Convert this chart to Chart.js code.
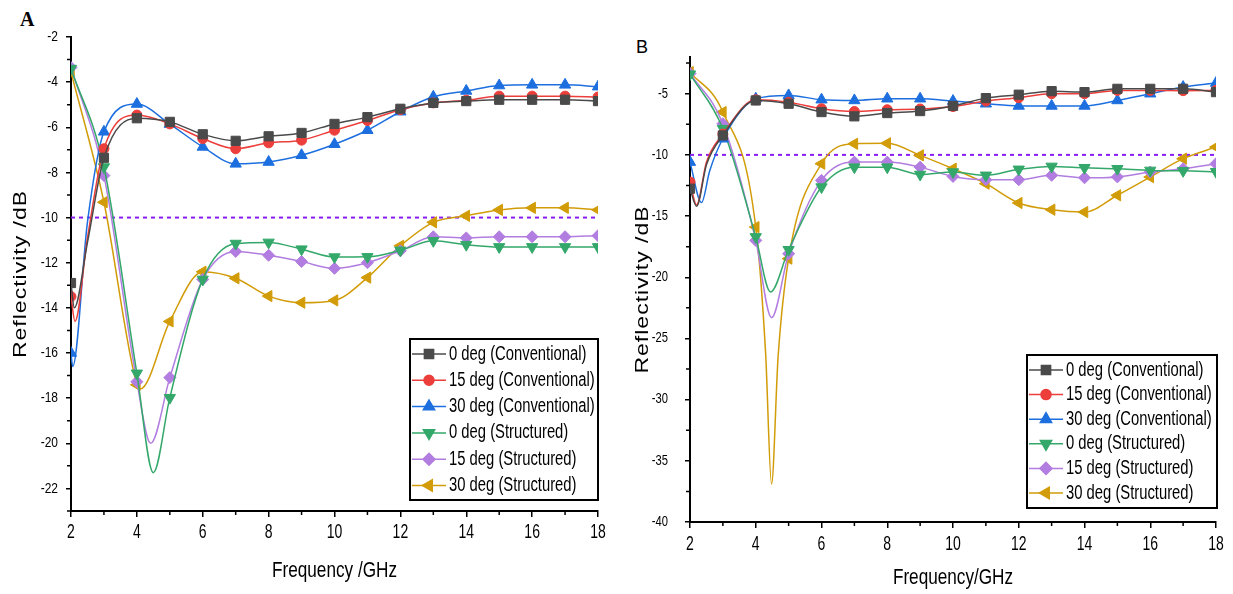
<!DOCTYPE html>
<html>
<head>
<meta charset="utf-8">
<script src="https://cdn.jsdelivr.net/npm/chart.js@4.4.1/dist/chart.umd.min.js"></script>
<style>
  body { margin: 0; background: #fff; width: 1233px; height: 594px; position: relative; overflow: hidden; }
  canvas { position: absolute; top: 0; }
  #chartA { left: 0; }
  #chartB { left: 620px; }
  .tag { position: absolute; color: #000; line-height: normal; }
  #tagA { left: 20px; top: 8px; font: bold 20px 'Liberation Serif', 'Times New Roman', serif; }
  #tagB { left: 636px; top: 37px; font: 18px 'Liberation Sans', Arial, sans-serif; }
</style>
</head>
<body>
<div id="tagA" class="tag">A</div>
<div id="tagB" class="tag">B</div>
<canvas id="chartA" width="620" height="594"></canvas>
<canvas id="chartB" width="613" height="594"></canvas>
<script>
const SANS = "'Liberation Sans', Arial, sans-serif";

// frequencies carrying a marker (GHz)
const freq = [2, 3, 4, 5, 6, 7, 8, 9, 10, 11, 12, 13, 14, 15, 16, 17, 18];
const xTicks = [2, 4, 6, 8, 10, 12, 14, 16, 18];
const xMinor = [3, 5, 7, 9, 11, 13, 15, 17];
const threshold = -10;

// ---- panel A ----
const yTicksA = [-22, -20, -18, -16, -14, -12, -10, -8, -6, -4, -2];
const yMinorA = [-23, -21, -19, -17, -15, -13, -11, -9, -7, -5, -3];

const a0Conv   = [-12.9, -7.35, -5.6, -5.76, -6.31, -6.6, -6.4, -6.25, -5.85, -5.55, -5.18, -4.92, -4.84, -4.78, -4.78, -4.78, -4.84];
const a15Conv  = [-13.5, -6.95, -5.46, -5.85, -6.5, -6.95, -6.69, -6.57, -6.13, -5.7, -5.22, -4.92, -4.8, -4.62, -4.62, -4.62, -4.66];
const a30Conv  = [-16.0, -6.2, -4.97, -5.86, -6.87, -7.62, -7.54, -7.24, -6.75, -6.13, -5.31, -4.65, -4.39, -4.15, -4.12, -4.12, -4.2];
const a0Struct = [-3.4, -7.76, -16.9, -17.98, -12.74, -11.15, -11.1, -11.4, -11.75, -11.74, -11.45, -11.03, -11.2, -11.3, -11.3, -11.3, -11.3];
const a15Struct = [-3.35, -8.14, -17.27, -17.09, -12.74, -11.5, -11.67, -11.95, -12.25, -12.0, -11.47, -10.85, -10.9, -10.85, -10.85, -10.85, -10.8];
const a30Struct = [-3.55, -9.32, -17.41, -14.6, -12.4, -12.69, -13.48, -13.77, -13.67, -12.66, -11.25, -10.21, -9.92, -9.66, -9.57, -9.57, -9.66];

// sampled points between markers (dips)
const a0ConvExtra   = [[2.1, -14.0], [2.5, -11.1]];
const a15ConvExtra  = [[2.12, -14.6], [2.5, -10.9]];
const a30ConvExtra  = [[2.05, -16.6], [2.5, -10.2]];
const a0StructExtra = [[4.5, -21.3]];
const a15StructExtra = [[4.42, -20.0]];
const a30StructExtra = [[4.1, -17.6]];

// ---- panel B ----
const yTicksB = [-40, -35, -30, -25, -20, -15, -10, -5];
const yMinorB = [-37.5, -32.5, -27.5, -22.5, -17.5, -12.5, -7.5, -2.5];

const b0Conv   = [-12.76, -8.41, -5.55, -5.82, -6.5, -6.85, -6.58, -6.42, -6.0, -5.36, -5.08, -4.79, -4.87, -4.6, -4.6, -4.6, -4.87];
const b15Conv  = [-12.22, -8.3, -5.5, -5.7, -6.23, -6.45, -6.31, -6.25, -6.05, -5.6, -5.33, -5.0, -5.0, -4.73, -4.73, -4.75, -4.73];
const b30Conv  = [-10.59, -8.68, -5.41, -5.14, -5.49, -5.55, -5.41, -5.41, -5.6, -5.82, -6.0, -6.0, -6.0, -5.55, -5.0, -4.46, -4.13];
const b0Struct = [-3.4, -7.86, -16.7, -17.75, -12.63, -11.0, -11.0, -11.6, -11.4, -11.67, -11.18, -10.94, -11.05, -11.13, -11.27, -11.3, -11.38];
const b15Struct = [-3.35, -7.45, -16.99, -18.08, -12.08, -10.59, -10.59, -11.0, -11.76, -12.03, -12.03, -11.67, -11.87, -11.8, -11.4, -11.13, -10.72];
const b30Struct = [-3.24, -6.5, -15.9, -18.48, -10.72, -9.09, -9.05, -10.04, -11.13, -12.35, -13.93, -14.48, -14.67, -13.3, -11.81, -10.31, -9.36];

const b0ConvExtra   = [[2.2, -14.2], [2.5, -10.8]];
const b15ConvExtra  = [[2.2, -14.1], [2.5, -10.6]];
const b30ConvExtra  = [[2.35, -13.9], [2.6, -11.3]];
const b0StructExtra = [[4.45, -21.2]];
const b15StructExtra = [[4.48, -23.3]];
const b30StructExtra = [[4.3, -26.2], [4.48, -36.9], [4.68, -26.5]];

const seriesStyles = [
  { label: '0 deg (Conventional)',  color: '#4a4a4a', shape: 'rect',     rotation: 0,   size: 6.5 },
  { label: '15 deg (Conventional)', color: '#ec3e3b', shape: 'circle',   rotation: 0,   size: 5 },
  { label: '30 deg (Conventional)', color: '#1d6fdf', shape: 'triangle', rotation: 0,   size: 6.5 },
  { label: '0 deg (Structured)',    color: '#33a86a', shape: 'triangle', rotation: 180, size: 6.5 },
  { label: '15 deg (Structured)',   color: '#b27de0', shape: 'rectRot',  rotation: 0,   size: 6 },
  { label: '30 deg (Structured)',   color: '#d29c08', shape: 'triangle', rotation: -90, size: 6.5 }
];

const toPoints = (vals, extra) => {
  const pts = freq.map((f, i) => ({ x: f, y: vals[i] }));
  extra.forEach(([x, y]) => pts.push({ x, y }));
  return pts.sort((a, b) => a.x - b.x);
};

// condensed text: the original labels are set in a narrow face
function squeeze(ctx, text, x, y, align, sx) {
  ctx.save();
  ctx.translate(x, y);
  ctx.scale(sx, 1);
  ctx.textAlign = align;
  ctx.fillText(text, 0, 0);
  ctx.restore();
}

// small outward ticks between the labelled ones
const minorTicks = {
  id: 'minorTicks',
  afterDraw(chart, args, opts) {
    const { ctx, chartArea, scales } = chart;
    ctx.save();
    ctx.strokeStyle = '#000';
    ctx.lineWidth = 1.5;
    ctx.beginPath();
    opts.x.forEach(v => {
      const px = scales.x.getPixelForValue(v);
      ctx.moveTo(px, chartArea.bottom);
      ctx.lineTo(px, chartArea.bottom + 4);
    });
    opts.y.forEach(v => {
      const py = scales.y.getPixelForValue(v);
      ctx.moveTo(chartArea.left, py);
      ctx.lineTo(chartArea.left - 4, py);
    });
    ctx.stroke();
    ctx.restore();
  }
};

// tick labels and axis titles
const axisText = {
  id: 'axisText',
  afterDraw(chart, args, o) {
    const { ctx, chartArea, scales } = chart;
    ctx.save();
    ctx.fillStyle = '#000';
    ctx.textBaseline = 'middle';
    ctx.font = `${o.xFont}px ${SANS}`;
    xTicks.forEach(v => squeeze(ctx, String(v), scales.x.getPixelForValue(v), chartArea.bottom + o.xGap, 'center', o.xSqueeze));
    ctx.font = `${o.yFont}px ${SANS}`;
    o.yTicks.forEach(v => squeeze(ctx, String(v), chartArea.left - o.yGap, scales.y.getPixelForValue(v), 'right', o.ySqueeze));
    ctx.font = `22px ${SANS}`;
    squeeze(ctx, o.xTitle, (chartArea.left + chartArea.right) / 2, o.xTitleY, 'center', 0.78);

    ctx.font = `23px ${SANS}`;
    ctx.letterSpacing = '1px';
    ctx.translate(o.yTitleX, (chartArea.top + chartArea.bottom) / 2);
    ctx.scale(0.8, 1);
    ctx.rotate(-Math.PI / 2);
    ctx.textAlign = 'center';
    ctx.fillText('Reflectivity /dB', 0, 0);
    ctx.restore();
  }
};

// framed legend sitting inside the plot
const boxLegend = {
  id: 'boxLegend',
  afterDraw(chart, args, opts) {
    const ctx = chart.ctx;
    ctx.save();
    ctx.fillStyle = '#fff';
    ctx.fillRect(opts.left, opts.top, opts.width, opts.height);
    ctx.lineWidth = 2;
    ctx.strokeStyle = '#000';
    ctx.strokeRect(opts.left, opts.top, opts.width, opts.height);
    ctx.font = `20px ${SANS}`;
    ctx.textBaseline = 'middle';
    chart.data.datasets.filter(ds => !ds.isThreshold).forEach((ds, i) => {
      const y = opts.top + opts.firstRow + i * opts.rowGap;
      ctx.strokeStyle = ds.borderColor;
      ctx.lineWidth = 1.5;
      ctx.beginPath();
      ctx.moveTo(opts.left + 2, y);
      ctx.lineTo(opts.left + 36, y);
      ctx.stroke();
      ctx.fillStyle = ds.borderColor;
      Chart.helpers.drawPoint(ctx, { pointStyle: ds.pointStyle, rotation: ds.pointRotation, radius: ds.markerSize, borderWidth: 1 }, opts.left + 19, y);
      ctx.fillStyle = '#000';
      squeeze(ctx, ds.label, opts.left + 39, y, 'left', 0.74);
    });
    ctx.restore();
  }
};

function makePanel(id, p) {
  const datasets = p.series.map((s, i) => {
    const st = seriesStyles[i];
    return {
      label: st.label,
      data: toPoints(s.vals, s.extra),
      borderColor: st.color,
      backgroundColor: st.color,
      borderWidth: 1.5,
      cubicInterpolationMode: 'monotone',
      pointStyle: st.shape,
      pointRotation: st.rotation,
      markerSize: st.size,
      pointRadius: ctx => Number.isInteger(ctx.raw.x) ? st.size : 0,
      pointBorderWidth: 1
    };
  });
  datasets.push({
    label: 'threshold',
    isThreshold: true,
    data: [{ x: 2, y: threshold }, { x: 18, y: threshold }],
    borderColor: '#8a1cf0',
    borderWidth: 2,
    borderDash: [4, 4],
    pointRadius: 0
  });

  new Chart(document.getElementById(id), {
    type: 'line',
    data: { datasets },
    plugins: [minorTicks, axisText, boxLegend],
    options: {
      responsive: false,
      animation: false,
      devicePixelRatio: 1,
      layout: { padding: p.padding },
      plugins: {
        legend: { display: false },
        tooltip: { enabled: false },
        minorTicks: { x: xMinor, y: p.yMinor },
        axisText: p.text,
        boxLegend: p.legend
      },
      scales: {
        x: {
          type: 'linear',
          min: 2,
          max: 18,
          afterBuildTicks: s => { s.ticks = xTicks.map(v => ({ value: v })); },
          afterFit: s => { s.height = p.xHeight; },
          border: { color: '#000', width: 2 },
          grid: { drawOnChartArea: false, color: '#000', tickLength: 6, lineWidth: 1.5 },
          ticks: { display: false }
        },
        y: {
          min: p.yMin,
          max: -2,
          afterBuildTicks: s => { s.ticks = p.yTicks.map(v => ({ value: v })); },
          afterFit: s => { s.width = p.yWidth; },
          border: { color: '#000', width: 2 },
          grid: { drawOnChartArea: false, color: '#000', tickLength: 5, lineWidth: 1.5 },
          ticks: { display: false }
        }
      }
    }
  });
}

makePanel('chartA', {
  series: [
    { vals: a0Conv, extra: a0ConvExtra },
    { vals: a15Conv, extra: a15ConvExtra },
    { vals: a30Conv, extra: a30ConvExtra },
    { vals: a0Struct, extra: a0StructExtra },
    { vals: a15Struct, extra: a15StructExtra },
    { vals: a30Struct, extra: a30StructExtra }
  ],
  yMin: -23,
  yTicks: yTicksA,
  yMinor: yMinorA,
  yWidth: 63,
  xHeight: 73,
  padding: { left: 8, top: 37, right: 22, bottom: 10 },
  text: { yTicks: yTicksA, xFont: 20, xSqueeze: 0.7, xGap: 21, yFont: 15, ySqueeze: 0.8, yGap: 13,
          xTitle: 'Frequency /GHz', xTitleY: 571, yTitleX: 21 },
  legend: { left: 410, top: 339, width: 188, height: 161, firstRow: 15, rowGap: 26.3 }
});

makePanel('chartB', {
  series: [
    { vals: b0Conv, extra: b0ConvExtra },
    { vals: b15Conv, extra: b15ConvExtra },
    { vals: b30Conv, extra: b30ConvExtra },
    { vals: b0Struct, extra: b0StructExtra },
    { vals: b15Struct, extra: b15StructExtra },
    { vals: b30Struct, extra: b30StructExtra }
  ],
  yMin: -40,
  yTicks: yTicksB,
  yMinor: yMinorB,
  yWidth: 60,
  xHeight: 70,
  padding: { left: 10, top: 57, right: 17, bottom: 2 },
  text: { yTicks: yTicksB, xFont: 20, xSqueeze: 0.7, xGap: 22, yFont: 14, ySqueeze: 0.8, yGap: 22,
          xTitle: 'Frequency/GHz', xTitleY: 578, yTitleX: 23 },
  legend: { left: 407, top: 355, width: 190, height: 153, firstRow: 15, rowGap: 24.6 }
});
</script>
</body>
</html>
